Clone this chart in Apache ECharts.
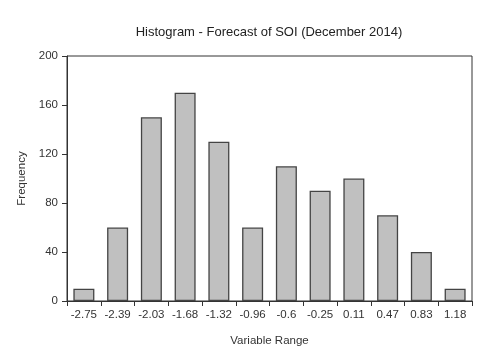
<!DOCTYPE html>
<html>
<head>
<meta charset="utf-8">
<script src="https://cdn.jsdelivr.net/npm/echarts@6/dist/echarts.min.js"></script>
<style>
  html, body { margin: 0; padding: 0; background: #fff; }
  #chart { width: 484px; height: 347px; }
</style>
</head>
<body>
<div id="chart"></div>
<script>
const categories = ['-2.75', '-2.39', '-2.03', '-1.68', '-1.32', '-0.96', '-0.6', '-0.25', '0.11', '0.47', '0.83', '1.18'];
const frequency = [10, 60, 150, 170, 130, 60, 110, 90, 100, 70, 40, 10];
const yTicks = { min: 0, max: 200, interval: 40 };

const font = 'Liberation Sans, Arial, sans-serif';
const chart = echarts.init(document.getElementById('chart'));
const option = {
  animation: false,
  title: {
    text: 'Histogram - Forecast of SOI (December 2014)',
    left: 264,
    textAlign: 'center',
    top: 21,
    textStyle: { fontFamily: font, fontSize: 13, fontWeight: 'normal', color: '#222' }
  },
  grid: {
    left: 67, right: 12, top: 56, bottom: 46,
    outerBoundsMode: 'none',
    containLabel: false,
    show: true, borderColor: '#333', borderWidth: 1, backgroundColor: 'transparent'
  },
  xAxis: {
    type: 'category',
    data: categories,
    name: 'Variable Range',
    nameLocation: 'middle',
    nameGap: 34,
    nameTextStyle: { fontFamily: font, fontSize: 11.5, color: '#333' },
    axisLine: { lineStyle: { color: '#333' } },
    axisTick: { show: true, length: 5, lineStyle: { color: '#333' } },
    axisLabel: { fontFamily: font, fontSize: 11.5, color: '#333', margin: 8, interval: 0 }
  },
  yAxis: {
    type: 'value',
    min: yTicks.min,
    max: yTicks.max,
    interval: yTicks.interval,
    name: 'Frequency',
    nameLocation: 'middle',
    nameGap: 38,
    nameTextStyle: { fontFamily: font, fontSize: 11.5, color: '#333' },
    splitLine: { show: false },
    axisLine: { show: true, lineStyle: { color: '#333' } },
    axisTick: { show: true, length: 5, lineStyle: { color: '#333' } },
    axisLabel: { fontFamily: font, fontSize: 11.5, color: '#333', margin: 9 }
  },
  series: [{
    type: 'bar',
    data: frequency,
    barWidth: 21,
    itemStyle: { color: '#c0c0c0', borderColor: '#444', borderWidth: 1.3 }
  }]
};
chart.setOption(option);
</script>
</body>
</html>
